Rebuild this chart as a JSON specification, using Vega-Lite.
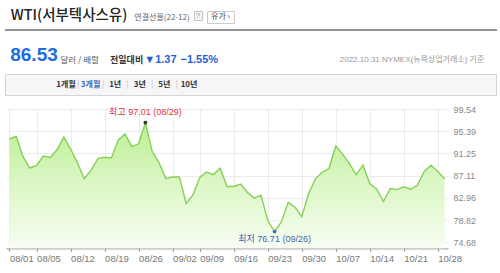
{
  "$schema": "https://vega.github.io/schema/vega-lite/v6.json",
  "background": "#ffffff",
  "padding": 0,
  "spacing": 0,
  "config": {"view": {"stroke": null}, "concat": {"spacing": 0}},
  "datasets": {
    "prices": [
      {"date": "08/01", "price": 93.95}, {"date": "08/02", "price": 94.42}, {"date": "08/03", "price": 90.66}, {"date": "08/04", "price": 88.54}, {"date": "08/05", "price": 89.01},
      {"date": "08/08", "price": 90.76}, {"date": "08/09", "price": 90.5}, {"date": "08/10", "price": 91.93}, {"date": "08/11", "price": 94.34}, {"date": "08/12", "price": 92.09},
      {"date": "08/15", "price": 89.55}, {"date": "08/16", "price": 86.53}, {"date": "08/17", "price": 88.11}, {"date": "08/18", "price": 90.3}, {"date": "08/19", "price": 90.55},
      {"date": "08/22", "price": 90.4}, {"date": "08/23", "price": 93.74}, {"date": "08/24", "price": 94.89}, {"date": "08/25", "price": 92.52}, {"date": "08/26", "price": 93.06},
      {"date": "08/29", "price": 97.01}, {"date": "08/30", "price": 91.64}, {"date": "08/31", "price": 89.55}, {"date": "09/01", "price": 86.61}, {"date": "09/02", "price": 86.87},
      {"date": "09/06", "price": 86.88}, {"date": "09/07", "price": 81.94}, {"date": "09/08", "price": 83.54}, {"date": "09/09", "price": 86.79},
      {"date": "09/12", "price": 87.78}, {"date": "09/13", "price": 87.31}, {"date": "09/14", "price": 88.48}, {"date": "09/15", "price": 85.1}, {"date": "09/16", "price": 85.11},
      {"date": "09/19", "price": 85.55}, {"date": "09/20", "price": 84.0}, {"date": "09/21", "price": 82.94}, {"date": "09/22", "price": 83.49}, {"date": "09/23", "price": 78.74},
      {"date": "09/26", "price": 76.71}, {"date": "09/27", "price": 78.5}, {"date": "09/28", "price": 82.15}, {"date": "09/29", "price": 81.23}, {"date": "09/30", "price": 79.49},
      {"date": "10/03", "price": 83.8}, {"date": "10/04", "price": 86.52}, {"date": "10/05", "price": 87.76}, {"date": "10/06", "price": 88.45}, {"date": "10/07", "price": 92.64},
      {"date": "10/10", "price": 91.13}, {"date": "10/11", "price": 89.35}, {"date": "10/12", "price": 87.27}, {"date": "10/13", "price": 89.11}, {"date": "10/14", "price": 85.61},
      {"date": "10/17", "price": 84.65}, {"date": "10/18", "price": 82.3}, {"date": "10/19", "price": 84.7}, {"date": "10/20", "price": 84.51}, {"date": "10/21", "price": 85.05},
      {"date": "10/24", "price": 84.58}, {"date": "10/25", "price": 85.32}, {"date": "10/26", "price": 87.91}, {"date": "10/27", "price": 89.08}, {"date": "10/28", "price": 87.9},
      {"date": "10/31", "price": 86.53}
    ],
    "ann": [
      {"date": "08/29", "price": 97.01, "kind": "max", "label": "최고 97.01 (08/29)"},
      {"date": "09/26", "price": 76.71, "kind": "min", "label": "최저 76.71 (09/26)"}
    ],
    "tabs": [
      {"key": "1개월", "t": "1개월", "k": "tab"}, {"key": "s1", "t": "|", "k": "sep"},
      {"key": "3개월", "t": "3개월", "k": "sel"}, {"key": "s2", "t": "|", "k": "sep"},
      {"key": "1년", "t": "1년", "k": "tab"}, {"key": "s3", "t": "|", "k": "sep"},
      {"key": "3년", "t": "3년", "k": "tab"}, {"key": "s4", "t": "|", "k": "sep"},
      {"key": "5년", "t": "5년", "k": "tab"}, {"key": "s5", "t": "|", "k": "sep"},
      {"key": "10년", "t": "10년", "k": "tab"}
    ]
  },
  "vconcat": [
    {"width": 10, "height": 8, "data": {"values": []}, "mark": "text"},
    {
      "spacing": 0, "bounds": "flush",
      "hconcat": [
        {"width": 8, "height": 18, "data": {"values": []}, "mark": "text"},
        {"width": 122, "height": 18, "data": {"values": [{"t": "WTI(서부텍사스유)"}]},
         "mark": {"type": "text", "font": "Noto Sans CJK KR", "fontSize": 14.5, "fontWeight": 500, "color": "#222222", "baseline": "alphabetic", "align": "center"},
         "encoding": {"text": {"field": "t"}}},
        {"width": 64, "height": 18, "data": {"values": [{"t": "연결선물(22-12)"}]},
         "mark": {"type": "text", "font": "Noto Sans CJK KR", "fontSize": 8, "color": "#666666", "baseline": "alphabetic", "align": "center"},
         "encoding": {"text": {"field": "t"}}},
        {"width": 8, "height": 9, "view": {"fill": "#f5f5f5", "stroke": "#c4c4c4"}, "data": {"values": [{"t": "?"}]},
         "mark": {"type": "text", "font": "Liberation Sans", "fontSize": 7, "color": "#888888", "baseline": "middle", "align": "center"},
         "encoding": {"text": {"field": "t"}}},
        {"width": 5, "height": 2, "data": {"values": []}, "mark": "text"},
        {"width": 27, "height": 12, "view": {"fill": "#ffffff", "stroke": "#cccccc"}, "data": {"values": [{"t": "유가 ›"}]},
         "mark": {"type": "text", "font": "Noto Sans CJK KR", "fontSize": 8, "color": "#444444", "baseline": "middle", "align": "center"},
         "encoding": {"text": {"field": "t"}}}
      ]
    },
    {
      "spacing": 0, "bounds": "flush",
      "hconcat": [
        {"width": 5, "height": 2, "data": {"values": []}, "mark": "text"},
        {"width": 492, "height": 2, "view": {"fill": "#949494", "stroke": null}, "data": {"values": []}, "mark": "text"}
      ]
    },
    {"width": 10, "height": 14.3, "data": {"values": []}, "mark": "text"},
    {
      "spacing": 0, "bounds": "flush",
      "hconcat": [
        {"width": 8, "height": 22, "data": {"values": []}, "mark": "text"},
        {"width": 52, "height": 18.6, "data": {"values": [{"t": "86.53"}]},
         "mark": {"type": "text", "font": "Liberation Sans", "fontSize": 19, "fontWeight": "bold", "color": "#1d6ce0", "baseline": "alphabetic", "align": "center"},
         "encoding": {"text": {"field": "t"}}},
        {"width": 39.4, "height": 21, "data": {"values": [{"t": "달러 / 배럴"}]},
         "mark": {"type": "text", "font": "Noto Sans CJK KR", "fontSize": 8.5, "color": "#555555", "baseline": "alphabetic", "align": "center"},
         "encoding": {"text": {"field": "t"}}},
        {"width": 53.2, "height": 21, "data": {"values": [{"t": "전일대비"}]},
         "mark": {"type": "text", "font": "Noto Sans CJK KR", "fontSize": 9, "fontWeight": "bold", "color": "#333333", "baseline": "alphabetic", "align": "center"},
         "encoding": {"text": {"field": "t"}}},
        {"width": 12.8, "height": 22, "data": {"values": [{"t": "▼1.37"}]},
         "mark": {"type": "text", "font": "Liberation Sans, DejaVu Sans", "fontSize": 11, "fontWeight": "bold", "color": "#1f5fd4", "baseline": "alphabetic", "align": "center"},
         "encoding": {"text": {"field": "t"}}},
        {"width": 64.6, "height": 22, "data": {"values": [{"t": "−1.55%"}]},
         "mark": {"type": "text", "font": "Liberation Sans", "fontSize": 11, "fontWeight": "bold", "color": "#1f5fd4", "baseline": "alphabetic", "align": "center"},
         "encoding": {"text": {"field": "t"}}},
        {"width": 132, "height": 2, "data": {"values": []}, "mark": "text"},
        {"width": 96, "height": 19, "data": {"values": [{"t": "2022.10.31 NYMEX(뉴욕상업거래소) 기준"}]},
         "mark": {"type": "text", "font": "Liberation Sans, Noto Sans CJK KR", "fontSize": 8, "color": "#9a9a9a", "baseline": "alphabetic", "align": "center"},
         "encoding": {"text": {"field": "t"}}}
      ]
    },
    {
      "spacing": 0, "bounds": "flush",
      "hconcat": [
        {"width": 5, "height": 1, "data": {"values": []}, "mark": "text"},
        {"width": 492, "height": 1, "view": {"fill": "#d6d6d6", "stroke": null}, "data": {"values": []}, "mark": "text"}
      ]
    },
    {
      "spacing": 0, "bounds": "flush",
      "hconcat": [
        {"width": 5, "height": 20, "data": {"values": []}, "mark": "text"},
        {"width": 1, "height": 20, "view": {"fill": "#d6d6d6", "stroke": null}, "data": {"values": []}, "mark": "text"},
        {"width": 50, "height": 20, "view": {"fill": "#f6f6f8", "stroke": null}, "data": {"values": []}, "mark": "text"},
        {"width": 143, "height": 20, "view": {"fill": "#f6f6f8", "stroke": null},
         "data": {"name": "tabs"},
         "mark": {"type": "text", "font": "Noto Sans CJK KR", "fontSize": 8, "fontWeight": "bold", "baseline": "middle", "align": "center"},
         "encoding": {
           "x": {"field": "key", "type": "nominal", "sort": null, "scale": {"type": "point", "padding": 0.81}, "axis": null},
           "text": {"field": "t"},
           "color": {"field": "k", "type": "nominal", "scale": {"domain": ["tab", "sel", "sep"], "range": ["#333333", "#3d68bd", "#cfcfcf"]}, "legend": null}
         }},
        {"width": 297, "height": 20, "view": {"fill": "#f6f6f8", "stroke": null}, "data": {"values": []}, "mark": "text"},
        {"width": 1, "height": 20, "view": {"fill": "#d6d6d6", "stroke": null}, "data": {"values": []}, "mark": "text"}
      ]
    },
    {
      "spacing": 0, "bounds": "flush",
      "hconcat": [
        {"width": 5, "height": 1, "data": {"values": []}, "mark": "text"},
        {"width": 492, "height": 1, "view": {"fill": "#d6d6d6", "stroke": null}, "data": {"values": []}, "mark": "text"}
      ]
    },
    {"width": 10, "height": 8.3, "data": {"values": []}, "mark": "text"},
    {
      "spacing": 0, "bounds": "flush",
      "hconcat": [
        {"width": 6, "height": 10, "data": {"values": []}, "mark": "text"},
        {
          "width": 442, "height": 139.4,
          "layer": [
            {
              "data": {"name": "prices"},
              "mark": {"type": "area", "interpolate": "linear", "clip": true,
                "color": {"gradient": "linear", "x1": 0, "y1": 0, "x2": 0, "y2": 1,
                  "stops": [{"offset": 0, "color": "#bbef92"}, {"offset": 0.45, "color": "#daf6c2"}, {"offset": 1, "color": "#f7fdf2"}]}},
              "encoding": {
                "x": {"field": "date", "type": "ordinal", "sort": null, "title": null,
                  "scale": {"type": "point", "padding": 0.5},
                  "axis": {"values": ["08/01", "08/05", "08/12", "08/19", "08/26", "09/02", "09/09", "09/16", "09/23", "09/30", "10/07", "10/14", "10/21", "10/28"],
                    "labelAngle": 0, "labelAlign": "left", "labelBaseline": "top", "labelPadding": 2, "tickSize": 3,
                    "tickColor": "#999999", "domainColor": "#999999", "labelColor": "#777777",
                    "labelFont": "Liberation Sans Narrow, Liberation Sans", "labelFontSize": 9.5,
                    "grid": true, "gridColor": "#ebebeb", "labelOverlap": false, "labelBound": false}},
                "y": {"field": "price", "type": "quantitative", "title": null, "stack": null,
                  "scale": {"domain": [73.56, 99.54], "nice": false, "zero": false},
                  "axis": {"orient": "right", "values": [99.54, 95.39, 91.25, 87.11, 82.96, 78.82, 74.68], "tickCount": 20, "format": ".2f",
                    "domain": false, "ticks": false, "labelPadding": 5, "labelColor": "#888888", "labelOverlap": false,
                    "labelFont": "Liberation Sans Narrow, Liberation Sans", "labelFontSize": 9,
                    "grid": true, "gridColor": "#ebebeb"}}
              }
            },
            {
              "data": {"name": "prices"},
              "mark": {"type": "line", "color": "#86d057", "strokeWidth": 1.4},
              "encoding": {
                "x": {"field": "date", "type": "ordinal", "sort": null},
                "y": {"field": "price", "type": "quantitative"}
              }
            },
            {
              "data": {"name": "ann"},
              "mark": {"type": "point", "filled": true, "size": 14, "opacity": 1},
              "encoding": {
                "x": {"field": "date", "type": "ordinal", "sort": null},
                "y": {"field": "price", "type": "quantitative"},
                "color": {"field": "kind", "type": "nominal", "scale": {"domain": ["max", "min"], "range": ["#e8262b", "#1d5fd6"]}, "legend": null}
              }
            },
            {
              "data": {"name": "ann"},
              "transform": [{"filter": "datum.kind == 'max'"}],
              "mark": {"type": "text", "font": "Liberation Sans Narrow, Liberation Sans, Noto Sans CJK KR", "fontSize": 9, "color": "#d9363e", "baseline": "bottom", "align": "center", "dy": -6},
              "encoding": {
                "x": {"field": "date", "type": "ordinal", "sort": null},
                "y": {"field": "price", "type": "quantitative"},
                "text": {"field": "label"}
              }
            },
            {
              "data": {"name": "ann"},
              "transform": [{"filter": "datum.kind == 'min'"}],
              "mark": {"type": "text", "font": "Liberation Sans Narrow, Liberation Sans, Noto Sans CJK KR", "fontSize": 9, "color": "#3c64b4", "baseline": "top", "align": "center", "dy": 4},
              "encoding": {
                "x": {"field": "date", "type": "ordinal", "sort": null},
                "y": {"field": "price", "type": "quantitative"},
                "text": {"field": "label"}
              }
            }
          ]
        }
      ]
    }
  ]
}
